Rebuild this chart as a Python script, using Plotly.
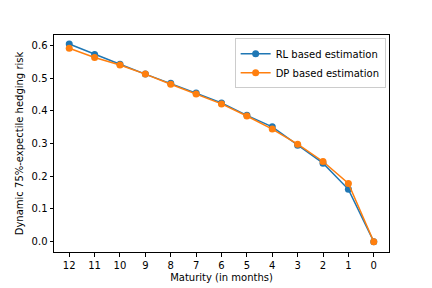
import plotly.graph_objects as go

maturity = [12, 11, 10, 9, 8, 7, 6, 5, 4, 3, 2, 1, 0]
rl_values = [0.604, 0.572, 0.542, 0.512, 0.484, 0.454, 0.424, 0.386, 0.351, 0.295, 0.240, 0.160, 0.0]
dp_values = [0.591, 0.563, 0.540, 0.512, 0.481, 0.451, 0.421, 0.384, 0.344, 0.298, 0.245, 0.178, 0.0]
tick_labels = [str(m) for m in maturity]

fig = go.Figure()
fig.add_trace(go.Scatter(x=maturity, y=rl_values, mode="lines+markers", name="RL based estimation",
                         line=dict(color="#1f77b4", width=1.5), marker=dict(size=7, color="#1f77b4")))
fig.add_trace(go.Scatter(x=maturity, y=dp_values, mode="lines+markers", name="DP based estimation",
                         line=dict(color="#ff7f0e", width=1.5), marker=dict(size=7, color="#ff7f0e")))

axis_common = dict(showline=True, linecolor="black", linewidth=1, mirror=True, ticks="outside",
                   ticklen=3.5, tickcolor="black", showgrid=False, zeroline=False, automargin=False,
                   tickfont=dict(family="DejaVu Sans", size=10, color="black"))

fig.update_layout(
    width=432, height=288,
    margin=dict(l=54, r=43, t=35, b=36),
    paper_bgcolor="white", plot_bgcolor="white",
    font=dict(family="DejaVu Sans", size=10, color="black"),
    showlegend=True,
    legend=dict(x=0.99, y=0.985, xanchor="right", yanchor="top", bordercolor="#cccccc", borderwidth=1,
                bgcolor="rgba(255,255,255,0.8)", font=dict(size=10), tracegroupgap=0, itemwidth=30),
    xaxis=dict(range=[12.6, -0.6], tickvals=maturity, ticktext=tick_labels,
               title=dict(text="Maturity (in months)", font=dict(size=10), standoff=4), **axis_common),
    yaxis=dict(range=[-0.0315, 0.6315], tickvals=[0, 0.1, 0.2, 0.3, 0.4, 0.5, 0.6], tickformat=".1f",
               title=dict(text="Dynamic 75%-expectile hedging risk", font=dict(size=10), standoff=6), **axis_common),
)

fig.write_html("out.html", config={"displayModeBar": False},
               post_script="document.body.style.margin='0';document.body.style.overflow='hidden';")
